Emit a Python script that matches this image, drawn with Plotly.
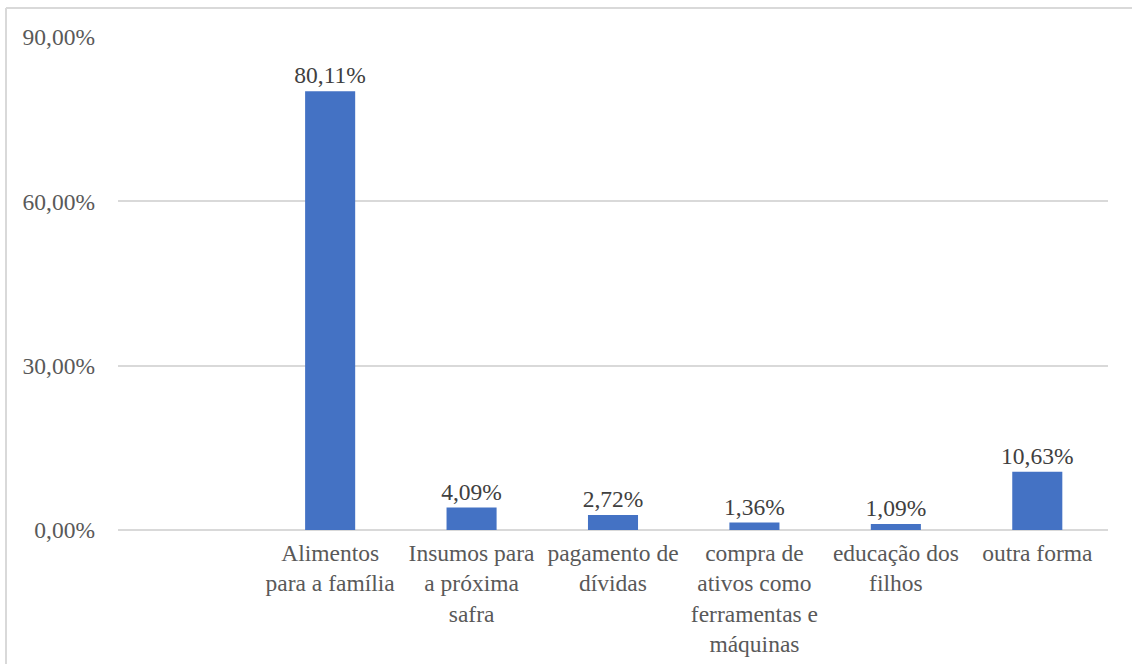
import plotly.graph_objects as go

# Destination of the money received (share of respondents)
categories = [
    " ",
    "Alimentos<br>para a família",
    "Insumos para<br>a próxima<br>safra",
    "pagamento de<br>dívidas",
    "compra de<br>ativos como<br>ferramentas e<br>máquinas",
    "educação dos<br>filhos",
    "outra forma",
]
values = [None, 80.11, 4.09, 2.72, 1.36, 1.09, 10.63]
y_ticks = [0, 30, 60, 90]
y_tick_labels = ["0,00%", "30,00%", "60,00%", "90,00%"]

labels = ["" if v is None else f"{v:.2f}".replace(".", ",") + "%" for v in values]

SERIF = "Liberation Serif, Times New Roman, serif"
FS = 23.5

W, H = 1132, 664
L, R, T, B = 118, 24, 37, 134
plot_w = W - L - R
plot_h = H - T - B

fig = go.Figure(
    go.Bar(
        x=categories,
        y=values,
        text=labels,
        textposition="outside",
        constraintext="none",
        textfont=dict(family=SERIF, size=FS, color="#404040"),
        marker=dict(color="#4472C4", line=dict(width=0)),
        cliponaxis=False,
        hoverinfo="skip",
    )
)

# light frame around the whole chart
border = dict(color="#d9d9d9", width=2)
fig.add_shape(type="line", xref="paper", yref="paper",
              x0=(6 - L) / plot_w, x1=(W + 10 - L) / plot_w,
              y0=(H - B - 8) / plot_h, y1=(H - B - 8) / plot_h, line=border)
fig.add_shape(type="line", xref="paper", yref="paper",
              x0=(6 - L) / plot_w, x1=(6 - L) / plot_w,
              y0=(H - B - 8) / plot_h, y1=-(B + 10) / plot_h, line=border)

fig.update_layout(
    width=W,
    height=H,
    margin=dict(l=L, r=R, t=T, b=B, autoexpand=False),
    paper_bgcolor="white",
    plot_bgcolor="white",
    bargap=0.646,
    showlegend=False,
    font=dict(family=SERIF, size=FS, color="#595959"),
    xaxis=dict(
        automargin=False,
        showgrid=False,
        showline=False,
        zeroline=False,
        ticks="",
        tickangle=0,
        ticklabelstandoff=6,
        tickfont=dict(family=SERIF, size=FS, color="#595959"),
    ),
    yaxis=dict(
        automargin=False,
        range=[0, 90],
        tickvals=y_ticks,
        ticktext=y_tick_labels,
        showgrid=True,
        gridcolor="#d9d9d9",
        gridwidth=1.5,
        zeroline=True,
        zerolinecolor="#d9d9d9",
        zerolinewidth=1.5,
        showline=False,
        ticks="",
        ticklabelstandoff=22,
        tickfont=dict(family=SERIF, size=FS, color="#595959"),
    ),
)

fig.write_html("out.html")
